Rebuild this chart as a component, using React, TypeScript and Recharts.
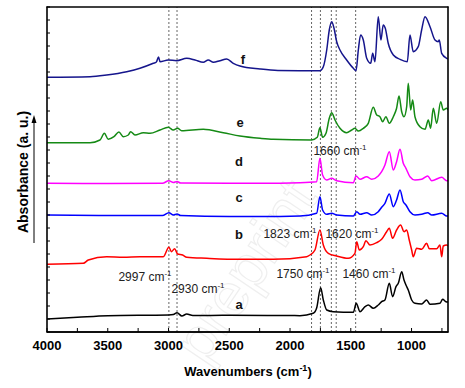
import React from 'react';
import { LineChart, Line, XAxis, YAxis, ReferenceLine } from 'recharts';

// [wavenumber (cm-1), absorbance (a.u., stacked offset)]
const curveA: [number, number][] = [
  [4000, 13], [3750, 14.7], [3500, 16.3], [3000, 17], [2960, 17.5], [2930, 19.3], [2890, 16], [2850, 18],
  [2800, 16.5], [2500, 16.7], [2000, 16.5], [1918, 16.3], [1809, 18.7], [1781, 24], [1748, 44.3], [1726, 32],
  [1698, 22], [1644, 20.3], [1479, 19.7], [1455, 28.7], [1424, 20.3], [1383, 25.3], [1356, 27], [1315, 23.7],
  [1274, 27], [1246, 30.3], [1219, 32], [1183, 48.7], [1156, 35.3], [1128, 45.3], [1109, 48.7], [1081, 60.3],
  [1062, 52], [1046, 47], [1027, 42], [999, 32], [972, 28.7], [917, 28], [876, 32], [848, 27.7], [766, 28.7],
  [744, 32.7], [717, 30.3], [700, 30],
];

const curveB: [number, number][] = [
  [4000, 67.7], [3701, 68.7], [3660, 72], [3509, 75.3], [3372, 74.7], [3235, 75.3], [3043, 75.3], [2997, 84.7],
  [2975, 80.3], [2950, 83.3], [2925, 78], [2884, 77], [2850, 74.7], [2686, 73.7], [2412, 72.7], [2138, 72.7],
  [1863, 75.3], [1836, 77], [1795, 82], [1754, 102], [1726, 87], [1685, 78.7], [1616, 76], [1521, 73.7],
  [1466, 78.7], [1451, 90.3], [1430, 82], [1397, 85.3], [1375, 91.3], [1342, 87], [1287, 89.3], [1246, 92.7],
  [1205, 100.3], [1183, 103.7], [1156, 93.7], [1123, 102], [1090, 107], [1062, 100.3], [1040, 102], [1019, 92],
  [999, 82], [986, 75.3], [958, 83.7], [917, 82.7], [876, 88.7], [854, 83.3], [793, 83.3], [766, 87], [752, 75.3],
  [739, 86], [711, 87], [700, 86],
];

const curveC: [number, number][] = [
  [4000, 117], [3500, 116.5], [3050, 116.5], [2997, 119.3], [2960, 117], [2930, 118], [2900, 116.5], [2500, 115.5],
  [2247, 115.5], [1918, 116], [1781, 118.7], [1754, 135.3], [1732, 122], [1698, 117.7], [1657, 118.7], [1616, 117],
  [1479, 116], [1451, 120.3], [1424, 117.7], [1369, 119.3], [1328, 117], [1274, 120.3], [1246, 124.7], [1219, 128.7],
  [1183, 138], [1150, 125.3], [1123, 132], [1095, 142], [1068, 130.3], [1046, 127], [1013, 120.3], [972, 117],
  [917, 117.7], [867, 119.3], [834, 117], [752, 118.7], [711, 116], [700, 116],
];

const curveD: [number, number][] = [
  [4000, 148.7], [3500, 148.5], [3050, 148.7], [2997, 151.3], [2960, 149.5], [2930, 150.5], [2900, 149], [2500, 148.7],
  [2247, 148.7], [1918, 149.3], [1781, 150.3], [1754, 173.7], [1732, 157], [1698, 152], [1657, 153.7], [1616, 151.3],
  [1479, 149.3], [1457, 156], [1424, 152.7], [1369, 155.3], [1328, 152.7], [1274, 156], [1246, 160.3], [1219, 167],
  [1183, 180.3], [1150, 162], [1123, 170.3], [1095, 182.7], [1068, 168.7], [1046, 163.7], [1013, 155.3], [972, 152],
  [917, 152.7], [867, 156], [834, 151.3], [752, 154.7], [711, 151.3], [700, 151.5],
];

const curveE: [number, number][] = [
  [4000, 189.3], [3646, 189.3], [3564, 192], [3528, 198.7], [3496, 192.7], [3449, 195.3], [3408, 200], [3372, 195.3],
  [3331, 197], [3312, 200.3], [3276, 197], [3207, 199.3], [3152, 198.7], [3070, 202], [3002, 204.7], [2961, 202],
  [2925, 203.7], [2892, 201.3], [2714, 202.7], [2549, 199.3], [2412, 196], [2247, 193.7], [2138, 192.7], [1822, 192],
  [1776, 194.7], [1754, 204.3], [1732, 194.7], [1704, 198.7], [1677, 213.7], [1657, 219.3], [1630, 212], [1589, 203.7],
  [1534, 199.3], [1493, 202], [1466, 203.7], [1438, 201], [1397, 203.7], [1356, 208.7], [1315, 224.7], [1287, 217],
  [1260, 215.3], [1238, 210.3], [1211, 215.3], [1183, 208.7], [1150, 215.3], [1123, 223.7], [1103, 236], [1081, 220.3],
  [1062, 215.3], [1040, 225.3], [1027, 248.7], [1007, 222], [991, 232], [972, 215.3], [931, 205.3], [889, 202.7],
  [862, 212], [843, 203.7], [821, 223.7], [793, 208.7], [760, 230.3], [739, 222], [711, 223.7], [700, 222],
];

const curveF: [number, number][] = [
  [4000, 254.7], [3646, 255.3], [3509, 257], [3344, 260.3], [3235, 263.7], [3125, 268.7], [3100, 270], [3082, 275],
  [3070, 270.3], [3002, 272], [2933, 271.3], [2850, 273.7], [2782, 272], [2714, 269.7], [2673, 272], [2631, 269.7],
  [2576, 271.3], [2521, 273], [2467, 268.7], [2412, 266], [2247, 263], [2100, 261.5], [1918, 261.3], [1754, 261.3],
  [1726, 265.3], [1698, 282], [1677, 302], [1657, 310.3], [1638, 303.7], [1616, 290.3], [1589, 282], [1534, 272],
  [1479, 263.7], [1457, 261.3], [1438, 282], [1419, 297], [1397, 292], [1369, 273.7], [1336, 268.7], [1320, 278.7],
  [1301, 270.3], [1274, 315.3], [1252, 292], [1233, 307], [1216, 303.7], [1192, 288.7], [1150, 277], [1095, 272.7],
  [1035, 270.3], [1013, 297], [986, 280.3], [945, 285.3], [917, 302], [889, 315.3], [848, 305.3], [807, 292],
  [780, 290.3], [772, 292], [752, 278.7], [711, 273.7], [700, 273],
];

const peakLines = [2997, 2930, 1823, 1750, 1660, 1620, 1460];
const xTicks = [4000, 3750, 3500, 3250, 3000, 2750, 2500, 2250, 2000, 1750, 1500, 1250, 1000, 750];
const yTicks = Array.from({ length: 26 }, (_, i) => i * 13);

const series = [
  { id: 'a', color: '#000000', pts: curveA },
  { id: 'b', color: '#ff0000', pts: curveB },
  { id: 'c', color: '#0000ff', pts: curveC },
  { id: 'd', color: '#ff00ff', pts: curveD },
  { id: 'e', color: '#158a15', pts: curveE },
  { id: 'f', color: '#15158c', pts: curveF },
];

const letters = [
  { t: 'f', x: 243, y: 64 },
  { t: 'e', x: 240, y: 127 },
  { t: 'd', x: 239, y: 166 },
  { t: 'c', x: 239, y: 202 },
  { t: 'b', x: 239, y: 239 },
  { t: 'a', x: 239, y: 309 },
];

const notes = [
  { v: '1660', x: 340, y: 155 },
  { v: '1823', x: 290, y: 238 },
  { v: '1620', x: 352, y: 238 },
  { v: '1750', x: 303, y: 278 },
  { v: '1460', x: 369, y: 278 },
  { v: '2997', x: 145, y: 281 },
  { v: '2930', x: 198, y: 293 },
];

const font = '"Liberation Sans", Arial, sans-serif';

const XTick = (props: any) => {
  const { x, y, payload } = props;
  return (
    <g>
      <line x1={x} x2={x} y1={y} y2={y - 4} stroke="#000" strokeWidth={1} />
      {payload.value % 500 === 0 && (
        <text x={x} y={y + 18} textAnchor="middle" fontSize={13} fontWeight="bold" fill="#000" fontFamily={font}>
          {payload.value}
        </text>
      )}
    </g>
  );
};

const LeftTick = (props: any) => (
  <line x1={props.x} x2={props.x + 3} y1={props.y} y2={props.y} stroke="#000" strokeWidth={1} />
);
const RightTick = (props: any) => (
  <line x1={props.x} x2={props.x - 3} y1={props.y} y2={props.y} stroke="#000" strokeWidth={1} />
);

export default function App() {
  return (
    <div style={{ position: 'absolute', left: 0, top: 0, width: 465, height: 388, background: '#fff', fontFamily: font }}>
      <svg width={465} height={388} style={{ position: 'absolute', left: 0, top: 0 }}>
        <text
          x={262}
          y={282}
          textAnchor="middle"
          fontSize={60}
          fontFamily={font}
          fill="none"
          stroke="#efefef"
          strokeWidth={1.2}
          transform="rotate(-56 262 282)"
        >
          preprint
        </text>
      </svg>
      <div style={{ position: 'absolute', left: 0, top: 0 }}>
        <LineChart width={465} height={388} margin={{ top: 7, right: 16, bottom: 26, left: 46 }}>
          <XAxis
            dataKey="wn"
            type="number"
            domain={[700, 4000]}
            reversed
            ticks={xTicks}
            interval={0}
            height={30}
            tickSize={0}
            tickMargin={0}
            tickLine={false}
            tick={<XTick />}
            axisLine={{ stroke: '#000', strokeWidth: 1.5 }}
            allowDataOverflow
          />
          <YAxis
            yAxisId="l"
            type="number"
            domain={[0, 325]}
            ticks={yTicks}
            interval={0}
            width={1}
            tickSize={0}
            tickMargin={0}
            tickLine={false}
            tick={<LeftTick />}
            axisLine={false}
          />
          <YAxis
            yAxisId="r"
            orientation="right"
            type="number"
            domain={[0, 325]}
            ticks={yTicks}
            interval={0}
            width={1}
            tickSize={0}
            tickMargin={0}
            tickLine={false}
            tick={<RightTick />}
            axisLine={false}
          />
          {peakLines.map((v) => (
            <ReferenceLine key={v} yAxisId="l" x={v} stroke="#555" strokeDasharray="2 2" strokeWidth={0.9} />
          ))}
          {series.map((s) => (
            <Line
              key={s.id}
              yAxisId="l"
              data={s.pts.map(([wn, ab]) => ({ wn, ab }))}
              dataKey="ab"
              type="monotone"
              stroke={s.color}
              strokeWidth={1.5}
              dot={false}
              isAnimationActive={false}
            />
          ))}
        </LineChart>
      </div>
      <svg width={465} height={388} style={{ position: 'absolute', left: 0, top: 0, pointerEvents: 'none' }}>
        <line x1={47} x2={47} y1={6.5} y2={332.5} stroke="#000" strokeWidth={1.6} />
        <line x1={448} x2={448} y1={6.5} y2={332.5} stroke="#000" strokeWidth={1.6} />
        <line x1={46.5} x2={448.5} y1={7} y2={7} stroke="#000" strokeWidth={1.5} />
        <line x1={46.5} x2={448.5} y1={332} y2={332} stroke="#000" strokeWidth={1.5} />
        {letters.map((l) => (
          <text key={l.t} x={l.x} y={l.y} textAnchor="middle" fontSize={13} fontWeight="bold" fill="#111" fontFamily={font}>
            {l.t}
          </text>
        ))}
        {notes.map((n) => (
          <text key={n.v} x={n.x} y={n.y} textAnchor="middle" fontSize={12} fill="#222" fontFamily={font}>
            {n.v} cm<tspan dy={-5} fontSize={8}>-1</tspan>
          </text>
        ))}
        <text x={248} y={376} textAnchor="middle" fontSize={13} fontWeight="bold" fill="#000" fontFamily={font}>
          Wavenumbers (cm<tspan dy={-5} fontSize={9}>-1</tspan>
          <tspan dy={5}>)</tspan>
        </text>
        <text
          x={23}
          y={172}
          textAnchor="middle"
          dominantBaseline="central"
          fontSize={14}
          fontWeight="bold"
          fill="#000"
          fontFamily={font}
          transform="rotate(-90 23 172)"
        >
          Absorbance (a. u.)
        </text>
        <line x1={34} x2={34} y1={243} y2={122} stroke="#000" strokeWidth={1} />
        <polygon points="34,115 31.5,123 36.5,123" fill="#000" />
      </svg>
    </div>
  );
}
